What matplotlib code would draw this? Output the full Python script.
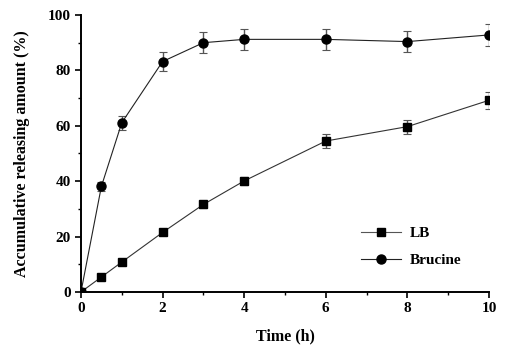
import matplotlib.pyplot as plt
from matplotlib.lines import Line2D
from matplotlib.ticker import MultipleLocator

# datos
tiempo = [0, 0.5, 1, 2, 3, 4, 6, 8, 10]
lb = [0, 5.4, 10.8, 21.5, 31.6, 40.1, 54.5, 59.7, 69.2]
lb_err = [0, 0.6, 0.6, 0.7, 1.2, 1.5, 2.4, 2.5, 3.1]
brucina = [0, 38.1, 61.1, 83.2, 90.0, 91.2, 91.2, 90.4, 92.8]
brucina_err = [0, 1.6, 2.6, 3.4, 3.8, 3.9, 3.8, 3.9, 4.0]

plt.rcParams['font.family'] = ['Liberation Serif', 'DejaVu Serif']
plt.rcParams['font.weight'] = 'bold'
plt.rcParams['font.size'] = 11

fig = plt.figure(figsize=(5.08, 3.47), dpi=100)
ax = fig.add_axes([0.1594, 0.1585, 0.8032, 0.7983])

ax.errorbar(tiempo, lb, yerr=lb_err, color='#333333', lw=0.8, marker='s', ms=6,
            mfc='black', mec='black', ecolor='#555555', elinewidth=1.0,
            capsize=3, capthick=0.8)
ax.errorbar(tiempo, brucina, yerr=brucina_err, color='#222222', lw=0.8, marker='o', ms=6.5,
            mfc='black', mec='black', ecolor='#555555', elinewidth=1.0,
            capsize=3, capthick=0.8)

ax.set_xlim(0, 10)
ax.set_ylim(0, 100)
ax.xaxis.set_major_locator(MultipleLocator(2))
ax.xaxis.set_minor_locator(MultipleLocator(1))
ax.yaxis.set_major_locator(MultipleLocator(20))
ax.yaxis.set_minor_locator(MultipleLocator(10))

for lado in ['top', 'right']:
    ax.spines[lado].set_visible(False)
for lado in ['left', 'bottom']:
    ax.spines[lado].set_linewidth(1.4)
ax.tick_params(which='major', direction='out', length=4, width=1.2, labelsize=11)
ax.tick_params(which='minor', direction='out', length=2.5, width=1.0)
for lbl in ax.get_xticklabels() + ax.get_yticklabels():
    lbl.set_fontweight('bold')

ax.set_xlabel('Time (h)', fontweight='bold', labelpad=9, fontsize=11.5)
ax.set_ylabel('Accumulative releasing amount (%)', fontweight='bold', labelpad=13, fontsize=11.5)

# leyenda sin barras de error
manejadores = [
    Line2D([], [], color='#555555', lw=0.8, marker='s', ms=6, mfc='black', mec='black'),
    Line2D([], [], color='#222222', lw=0.8, marker='o', ms=6.5, mfc='black', mec='black'),
]
ax.legend(manejadores, ['LB', 'Brucine'], loc='center left', bbox_to_anchor=(0.686, 0.163),
          frameon=False, handlelength=2.6, handletextpad=0.6, labelspacing=0.9,
          borderpad=0, borderaxespad=0, prop={'weight': 'bold', 'size': 11})

plt.savefig('out.png', dpi=100)
